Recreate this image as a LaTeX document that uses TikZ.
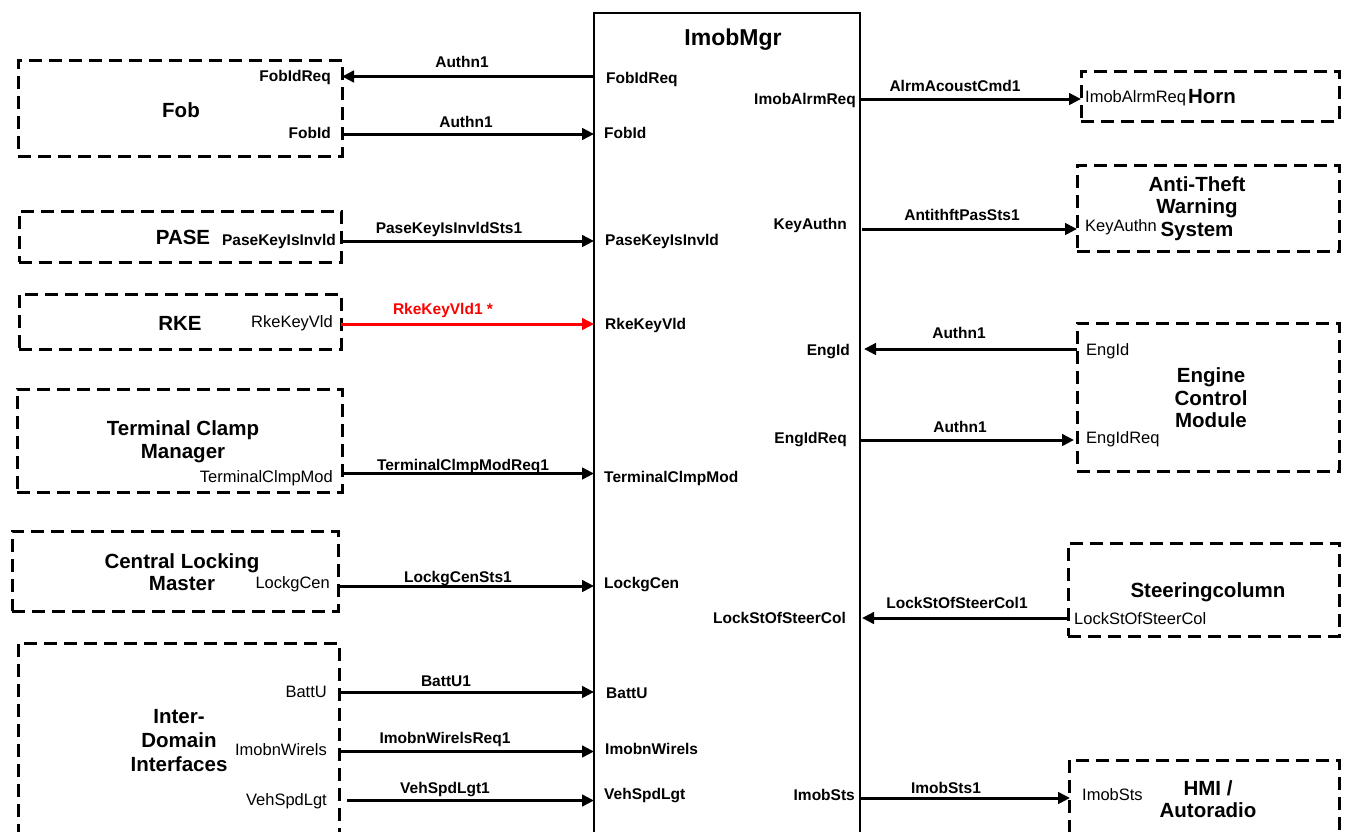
\documentclass[tikz,border=0pt]{standalone}
\usepackage{fontspec}
\setmainfont{Liberation Sans}
\usetikzlibrary{arrows.meta}
\begin{document}
\begin{tikzpicture}[x=1pt,y=-1pt,
  dbox/.style={draw, line width=3pt, dash pattern=on 13pt off 7pt, inner sep=0pt},
  mgrbox/.style={draw, line width=1.4pt, inner sep=0pt},
  mgrttl/.style={font=\fontsize{23}{25}\selectfont\bfseries, inner sep=0pt, text height=16.5pt, text depth=0pt},
  ttl/.style={font=\fontsize{20.5}{22.5}\selectfont\bfseries, align=center, inner sep=0pt},
  sig/.style={font=\fontsize{15.5}{17}\selectfont\bfseries, inner sep=0pt, text height=11.2pt, text depth=0pt},
  prt/.style={font=\fontsize{16.5}{18}\selectfont, inner sep=0pt, text height=11.9pt, text depth=0pt},
  conn/.style={line width=3pt, -{Triangle[length=12pt,width=11.5pt]}},
  redconn/.style={conn, red},
]
\useasboundingbox (0,0) rectangle (1348,831);
\clip (0,0) rectangle (1348,831);

% ---------------- central block
\node[mgrbox, minimum width=266pt, minimum height=850pt] (mgr) at (727,438) {};
\node[mgrttl] (mgrt) at (733,37) {ImobMgr};

% ---------------- left boxes
\node[dbox, minimum width=324pt, minimum height=96pt] (fob) at (180,108) {};
\node[dbox, minimum width=322pt, minimum height=51pt] (pase) at (180,236.5) {};
\node[dbox, minimum width=322pt, minimum height=55pt] (rke) at (180,321.5) {};
\node[dbox, minimum width=325pt, minimum height=103pt] (tcm) at (179.5,440.5) {};
\node[dbox, minimum width=326pt, minimum height=80pt] (clm) at (175,571) {};
\node[dbox, minimum width=321pt, minimum height=217pt] (idi) at (178.5,751.5) {};

\node[ttl] (fobt) at (181,110) {Fob};
\node[ttl] (paset) at (183,237) {PASE};
\node[ttl] (rket) at (180,323) {RKE};
\node[ttl] (tcmt) at (183,441.5) {Terminal Clamp\\Manager};
\node[ttl] (clmt) at (182,572) {Central Locking\\Master};
\node[ttl, font=\fontsize{20.5}{24}\selectfont\bfseries] (idit) at (179,741) {Inter-\\Domain\\Interfaces};

% ---------------- right boxes
\node[dbox, minimum width=258pt, minimum height=50pt] (horn) at (1210,96) {};
\node[dbox, minimum width=262pt, minimum height=86pt] (atw) at (1208,208) {};
\node[dbox, minimum width=262pt, minimum height=148pt] (ecm) at (1208,397) {};
\node[dbox, minimum width=271pt, minimum height=93pt] (scol) at (1203.5,589.5) {};
\node[dbox, minimum width=270pt, minimum height=100pt] (hmi) at (1204,810) {};

\node[ttl] (hornt) at (1212,97) {Horn};
\node[ttl] (atwt) at (1197,208.5) {Anti-Theft\\Warning\\System};
\node[ttl] (ecmt) at (1211,398) {Engine\\Control\\Module};
\node[ttl] (scolt) at (1208,592.5) {Steeringcolumn};
\node[ttl] (hmit) at (1208,799) {HMI /\\Autoradio};

% ---------------- port labels inside left boxes
\node[sig, anchor=east] (pfob1) at (331,76) {FobIdReq};
\node[sig, anchor=east] (pfob2) at (331,133) {FobId};
\node[sig, anchor=east] (ppase) at (336,240) {PaseKeyIsInvld};
\node[prt, anchor=east] (prke) at (333,322) {RkeKeyVld};
\node[prt, anchor=east] (ptcm) at (333,477) {TerminalClmpMod};
\node[prt, anchor=east] (pclm) at (330,583) {LockgCen};
\node[prt, anchor=east] (pidi1) at (327,692) {BattU};
\node[prt, anchor=east] (pidi2) at (327,750) {ImobnWirels};
\node[prt, anchor=east] (pidi3) at (327,800) {VehSpdLgt};

% ---------------- port labels inside right boxes
\node[prt, anchor=west] (phorn) at (1085,97) {ImobAlrmReq};
\node[prt, anchor=west] (patw) at (1085,226) {KeyAuthn};
\node[prt, anchor=west] (pecm1) at (1086,349.5) {EngId};
\node[prt, anchor=west] (pecm2) at (1086,437.5) {EngIdReq};
\node[prt, anchor=west] (pscol) at (1074,619) {LockStOfSteerCol};
\node[prt, anchor=west] (phmi) at (1082,795) {ImobSts};

% ---------------- port labels of ImobMgr, left side
\node[sig, anchor=west] (m1) at (606,78) {FobIdReq};
\node[sig, anchor=west] (m2) at (604,133) {FobId};
\node[sig, anchor=west] (m3) at (605,240) {PaseKeyIsInvld};
\node[sig, anchor=west] (m4) at (605,323.5) {RkeKeyVld};
\node[sig, anchor=west] (m5) at (604,477) {TerminalClmpMod};
\node[sig, anchor=west] (m6) at (604,583) {LockgCen};
\node[sig, anchor=west] (m7) at (606,692.5) {BattU};
\node[sig, anchor=west] (m8) at (605,749) {ImobnWirels};
\node[sig, anchor=west] (m9) at (604,794) {VehSpdLgt};

% ---------------- port labels of ImobMgr, right side
\node[sig, anchor=east] (r1) at (856,99) {ImobAlrmReq};
\node[sig, anchor=east] (r2) at (847,224) {KeyAuthn};
\node[sig, anchor=east] (r3) at (850,350) {EngId};
\node[sig, anchor=east] (r4) at (847,438) {EngIdReq};
\node[sig, anchor=east] (r5) at (846,618) {LockStOfSteerCol};
\node[sig, anchor=east] (r6) at (855,795) {ImobSts};

% ---------------- connector end points
\coordinate (fobA) at (342,76.5);
\coordinate (fobB) at (342,134);
\coordinate (paseA) at (341,241);
\coordinate (rkeA) at (341,324);
\coordinate (tcmA) at (342,473.5);
\coordinate (clmA) at (338,586);
\coordinate (idiA) at (339,692);
\coordinate (idiB) at (339,751.5);
\coordinate (idiC) at (347,800.5);

\coordinate (mFobA) at (594,76.5);
\coordinate (mFobB) at (594,134);
\coordinate (mPase) at (594,241);
\coordinate (mRke) at (594,324);
\coordinate (mTcm) at (594,473.5);
\coordinate (mClm) at (594,586);
\coordinate (mIdiA) at (594,692);
\coordinate (mIdiB) at (594,751.5);
\coordinate (mIdiC) at (594,800.5);

\coordinate (mHorn) at (860,99);
\coordinate (mAtw) at (862,229);
\coordinate (mEcmA) at (864,349);
\coordinate (mEcmB) at (860,440);
\coordinate (mScol) at (862,618);
\coordinate (mHmi) at (860,798);

\coordinate (hornA) at (1081,99);
\coordinate (atwA) at (1077,229);
\coordinate (ecmA) at (1077,349);
\coordinate (ecmB) at (1074,440);
\coordinate (scolA) at (1068,618);
\coordinate (hmiA) at (1070,798);

% ---------------- connectors, left
\draw[conn] (mFobA) -- (fobA);
\draw[conn] (fobB) -- (mFobB);
\draw[conn] (paseA) -- (mPase);
\draw[redconn] (rkeA) -- (mRke);
\draw[conn] (tcmA) -- (mTcm);
\draw[conn] (clmA) -- (mClm);
\draw[conn] (idiA) -- (mIdiA);
\draw[conn] (idiB) -- (mIdiB);
\draw[conn] (idiC) -- (mIdiC);

% ---------------- connectors, right
\draw[conn] (mHorn) -- (hornA);
\draw[conn] (mAtw) -- (atwA);
\draw[conn] (ecmA) -- (mEcmA);
\draw[conn] (mEcmB) -- (ecmB);
\draw[conn] (scolA) -- (mScol);
\draw[conn] (mHmi) -- (hmiA);

% ---------------- connector labels
\node[sig] (s1) at (462,62) {Authn1};
\node[sig] (s2) at (466,122) {Authn1};
\node[sig] (s3) at (449,228) {PaseKeyIsInvldSts1};
\node[sig, text=red] (s4) at (443,309) {RkeKeyVld1 *};
\node[sig] (s5) at (463,465) {TerminalClmpModReq1};
\node[sig] (s6) at (458,577) {LockgCenSts1};
\node[sig] (s7) at (446,681) {BattU1};
\node[sig] (s8) at (445,738) {ImobnWirelsReq1};
\node[sig] (s9) at (445,788) {VehSpdLgt1};

\node[sig] (t1) at (955,86) {AlrmAcoustCmd1};
\node[sig] (t2) at (962,215) {AntithftPasSts1};
\node[sig] (t3) at (959,333) {Authn1};
\node[sig] (t4) at (960,427) {Authn1};
\node[sig] (t5) at (957,603) {LockStOfSteerCol1};
\node[sig] (t6) at (946,788) {ImobSts1};
\end{tikzpicture}
\end{document}
